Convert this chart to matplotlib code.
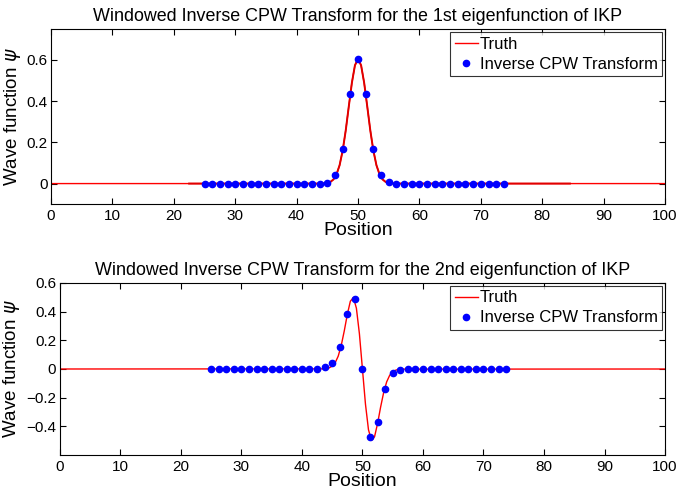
import numpy as np
import matplotlib
matplotlib.use('Agg')
import matplotlib.pyplot as plt

plt.rcParams['font.family'] = ['Liberation Sans', 'DejaVu Sans']

# Truth curves
truth1_x = [0, 44, 44.5, 45, 45.5, 46, 46.5, 47, 47.5, 48, 48.5, 49, 49.5, 50,
            50.5, 51, 51.5, 52, 52.5, 53, 53.5, 54, 54.5, 55, 55.5, 56, 100]
truth1_y = [0, 0.000, 0.001, 0.003, 0.008, 0.020, 0.045, 0.089, 0.160, 0.258, 0.375, 0.489, 0.574, 0.605,
            0.574, 0.489, 0.375, 0.258, 0.160, 0.089, 0.045, 0.020, 0.008, 0.003, 0.001, 0.000, 0]
window1 = [22.5, 84.5]   # darker overlay segment of the truth in the top panel

truth2_x = [0, 43.5, 44, 44.5, 45, 45.5, 46, 46.5, 47, 47.5, 48, 48.5, 49, 49.5, 50,
            50.5, 51, 51.5, 52, 52.5, 53, 53.5, 54, 54.5, 55, 55.5, 56, 56.5, 100]
truth2_y = [0, 0.001, 0.003, 0.008, 0.020, 0.044, 0.090, 0.165, 0.266, 0.380, 0.472, 0.498, 0.424, 0.245, 0,
            -0.245, -0.424, -0.498, -0.472, -0.380, -0.266, -0.165, -0.090, -0.044, -0.020, -0.008, -0.003, -0.001, 0]

# Inverse CPW transform samples
cpw_x = np.arange(25, 75, 1.25)
cpw1 = [0]*15 + [0.0, 0.003, 0.044, 0.168, 0.434, 0.605, 0.434, 0.168, 0.044, 0.006] + [0]*15
cpw2 = [0]*14 + [0.003, 0.012, 0.041, 0.150, 0.384, 0.487, 0.0, -0.471, -0.372, -0.138, -0.030, -0.005] + [0]*14

titles = ['Windowed Inverse CPW Transform for the 1st eigenfunction of IKP',
          'Windowed Inverse CPW Transform for the 2nd eigenfunction of IKP']

fig = plt.figure(figsize=(6.8, 4.92), dpi=100)
ax1 = fig.add_axes([0.075, 0.585, 0.903, 0.356])
ax2 = fig.add_axes([0.088, 0.075, 0.890, 0.350])

# top panel
ax1.plot(truth1_x, truth1_y, color='red', lw=1.0, label='Truth')
tx = np.array(truth1_x)
m = (tx >= window1[0]) & (tx <= window1[1])
ax1.plot(np.r_[window1[0], tx[m], window1[1]], np.r_[0, np.array(truth1_y)[m], 0],
         color='#e00000', lw=1.4)
ax1.plot(cpw_x, cpw1, 'o', color='blue', ms=4.5, mec='blue', label='Inverse CPW Transform')
ax1.set_ylim(-0.1, 0.75)
ax1.set_yticks([0, 0.2, 0.4, 0.6])
ax1.set_yticklabels(['0', '0.2', '0.4', '0.6'])

# bottom panel
ax2.plot(truth2_x, truth2_y, color='red', lw=1.0, label='Truth')
ax2.plot(cpw_x, cpw2, 'o', color='blue', ms=4.5, mec='blue', label='Inverse CPW Transform')
ax2.set_ylim(-0.6, 0.6)
ax2.set_yticks([-0.4, -0.2, 0, 0.2, 0.4, 0.6])
ax2.set_yticklabels(['\u22120.4', '\u22120.2', '0', '0.2', '0.4', '0.6'])

for ax, t in zip([ax1, ax2], titles):
    ax.set_xlim(0, 100)
    ax.set_xticks(range(0, 101, 10))
    ax.tick_params(direction='in', top=True, right=True, labelsize=11, length=4, width=0.8)
    ax.tick_params(axis='y', pad=2.5)
    ax.set_title(t, fontsize=12.9, pad=6)
    ax.set_xlabel('Position', fontsize=14, labelpad=-1)
    ax.set_ylabel('Wave function $\\psi$', fontsize=13.5)
    ax.yaxis.set_label_coords(-0.046 if ax is ax1 else -0.062, 0.5)
    for s in ax.spines.values():
        s.set_linewidth(0.8)
    leg = ax.legend(loc='upper right', fontsize=12, frameon=True, fancybox=False,
                    borderpad=0.25, handlelength=1.4, handletextpad=0.1,
                    labelspacing=0.3, borderaxespad=0.2, numpoints=1)
    leg.get_frame().set_edgecolor('black')
    leg.get_frame().set_linewidth(0.8)

fig.savefig('out.png', dpi=100)
